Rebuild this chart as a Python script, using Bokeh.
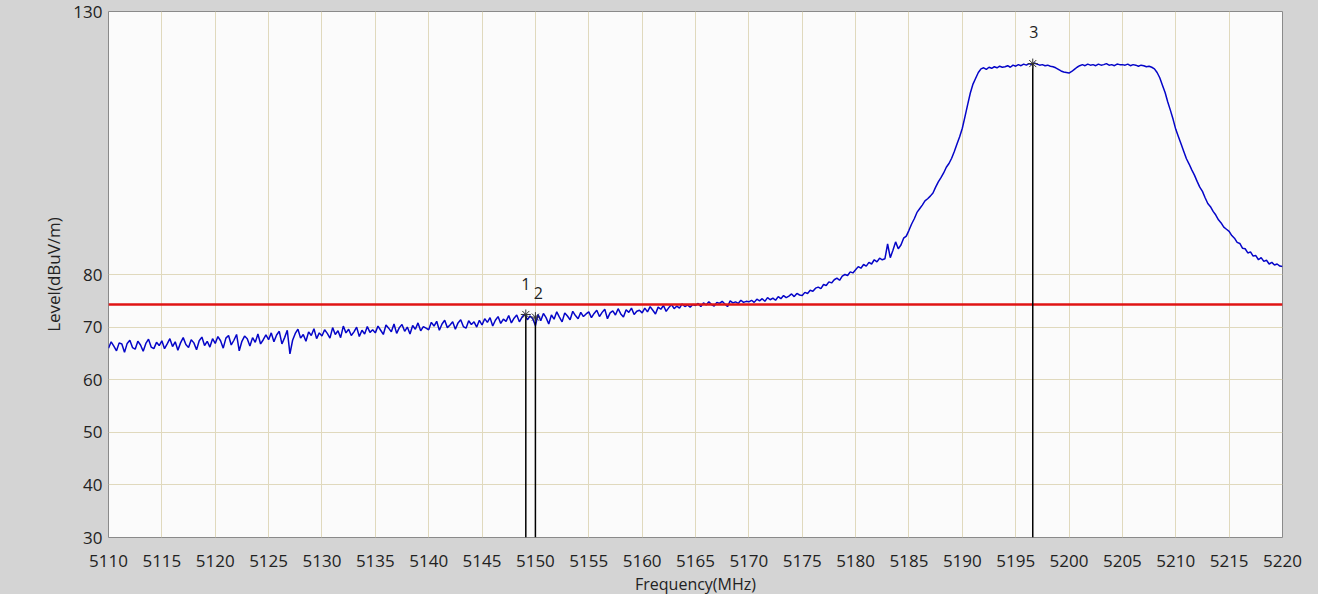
from bokeh.plotting import figure
from bokeh.layouts import column
from bokeh.models import FixedTicker, Range1d, ColumnDataSource
from bokeh.embed import file_html
from bokeh.resources import INLINE
from bokeh.core.properties import value

# ---- data ----
freq_start = 5110.0
freq_step = 0.25
level = [
    # 5110 - 5114.75
    66.0, 67.2, 66.4, 65.5, 67.0, 66.8, 65.2, 66.9, 67.5, 66.1, 65.8, 67.3, 66.6, 65.4, 66.9, 67.7, 66.2, 65.9, 67.1, 66.5,
    # 5115
    67.4, 65.9, 66.8, 67.8, 66.3, 67.2, 65.6, 67.0, 68.0, 66.7, 66.1, 67.6, 67.0, 65.7, 67.4, 68.1, 66.5, 67.3, 66.2, 67.8,
    # 5120
    66.9, 68.2, 67.4, 66.0, 67.9, 68.4, 66.6, 67.5, 68.6, 65.5, 67.3, 68.3, 67.8, 66.4, 68.0, 67.1, 68.7, 66.8, 67.6, 68.5,
    # 5125
    67.6, 68.9, 67.2, 68.5, 69.2, 66.8, 68.0, 69.4, 64.9, 67.5, 68.8, 69.6, 67.9, 68.6, 67.3, 69.1, 68.4, 69.7, 67.8, 68.9,
    # 5130
    68.3, 69.5, 68.8, 67.9, 69.9, 68.6, 69.3, 68.0, 70.2, 68.9, 69.6, 68.4, 69.1, 70.0, 68.2, 69.4, 68.7, 70.1, 69.0, 69.5,
    # 5135
    68.9, 70.2, 69.4, 68.6, 70.4, 69.8, 69.1, 70.6, 68.8, 69.9, 70.5, 69.2, 70.0, 68.7, 70.3, 69.6, 70.8, 69.3, 70.1, 69.8,
    # 5140
    69.5, 70.9, 70.2, 71.1, 69.4, 70.6, 71.3, 69.9, 70.4, 71.0, 69.6, 70.8, 71.4, 70.1, 69.8, 71.2, 70.5, 71.0, 70.0, 71.3,
    # 5145
    70.4, 71.6, 70.9, 71.8, 70.2, 71.3, 72.0, 70.7, 71.5, 71.1, 72.2, 70.8, 71.7, 72.3, 71.0, 71.9, 72.5, 71.4, 72.1, 71.6,
    # 5150
    70.3, 72.4, 71.2, 72.6, 71.8, 70.6, 72.3, 71.5, 72.9, 71.9, 71.0, 72.7, 72.1, 71.4, 73.0, 72.2, 71.6, 72.8, 72.0, 72.5,
    # 5155
    72.9, 71.8, 72.6, 73.2, 72.0, 72.8, 73.4, 71.6, 72.7, 73.1, 72.3, 73.5, 72.5, 71.9, 73.3, 72.8, 73.6, 72.4, 73.0, 73.2,
    # 5160
    72.7, 73.6, 72.9, 73.9, 73.2, 72.5, 73.8, 73.4, 74.1, 73.0, 73.7, 74.3, 73.5, 74.0, 73.6, 74.4, 73.9, 74.2, 73.8, 74.3,
    # 5165
    74.1, 74.5, 73.9, 74.6, 74.2, 74.8, 74.3, 74.0, 74.7, 74.5, 74.9, 74.4, 73.9, 75.0, 74.6, 74.8, 74.5, 75.1, 74.7, 74.9,
    # 5170
    74.8, 75.1, 74.7, 75.3, 75.0, 75.4, 74.9, 75.6, 75.2, 75.5, 75.1, 75.8, 75.4, 76.0, 75.6, 75.9, 76.3, 75.8, 76.4, 76.1,
    # 5175
    76.0, 76.6, 76.4, 77.0, 76.8, 77.4, 77.6, 77.3, 78.1, 77.9, 78.6, 78.4, 79.0, 79.3, 78.9, 79.7, 80.0, 79.8, 80.5, 80.3,
    # 5180
    80.9, 81.5, 81.2, 81.9, 81.6, 82.3, 82.0, 82.8, 82.4, 83.1, 82.8, 83.0, 85.8, 83.2, 84.6, 86.2, 84.9, 85.6, 86.9, 87.3,
    # 5185
    88.4, 89.6, 90.6, 91.8, 92.5, 93.2, 94.0, 94.4, 94.9, 95.5, 96.6, 97.6, 98.4, 99.3, 100.4, 101.1, 102.1, 103.4, 104.8, 106.2,
    # 5190
    107.8, 110.0, 112.3, 114.5, 116.2, 117.3, 118.4, 119.1, 119.3, 119.0, 119.4, 119.2, 119.5, 119.3, 119.6, 119.4, 119.5, 119.7, 119.4, 119.8,
    # 5195
    119.6, 119.9, 119.7, 120.0, 119.8, 120.1, 119.9, 120.2, 120.0, 119.8, 119.9, 119.7, 119.8, 119.6, 119.5, 119.3, 119.0, 118.7, 118.5, 118.4,
    # 5200
    118.3, 118.6, 119.0, 119.4, 119.7, 119.9, 119.7, 120.0, 119.8, 119.9, 119.7, 120.0, 119.8, 119.9, 120.1, 119.8, 119.9, 119.7, 120.0, 119.9,
    # 5205
    119.9, 119.8, 120.0, 119.7, 119.9, 119.8, 119.6, 119.8, 119.7, 119.5, 119.6, 119.4, 119.1, 118.4, 117.4, 116.0, 114.6, 112.8, 111.2, 109.5,
    # 5210
    107.6, 106.2, 104.8, 103.4, 102.0, 101.0, 99.9, 98.9, 97.7, 96.6, 95.8, 94.6, 93.5, 92.9, 92.0, 91.3, 90.4, 89.8, 89.0, 88.6,
    # 5215
    88.2, 87.4, 86.9, 86.1, 85.9, 85.0, 84.9, 84.1, 84.3, 83.5, 83.6, 82.8, 83.2, 82.5, 82.7, 82.0, 82.3, 81.8, 82.0, 81.6,
    # 5220
    81.5,
]
freq = [freq_start + i * freq_step for i in range(len(level))]

limit_level = 74.3

marker_freq = [5149.1, 5150.0, 5196.6]
marker_level = [72.4, 71.9, 120.1]
marker_label = ["1", "2", "3"]

x_ticks = [5110, 5115, 5120, 5125, 5130, 5135, 5140, 5145, 5150, 5155, 5160,
           5165, 5170, 5175, 5180, 5185, 5190, 5195, 5200, 5205, 5210, 5215, 5220]
y_ticks = [30, 40, 50, 60, 70, 80, 130]

x_title = "Frequency(MHz)"
y_title = "Level(dBuV/m)"

# ---- styling ----
label_dx = [0, 3, 1]
label_dy = [-30, -24, -32]
FONT = "Open Sans"
TXT = "#222222"
FRAME = "#d4d4d4"
W = 1318
H_TITLE = 20
H_MAIN = 594 - H_TITLE

p = figure(width=W, height=H_MAIN,
           x_range=Range1d(5110, 5220), y_range=Range1d(30, 130),
           output_backend="svg", toolbar_location=None,
           min_border_left=108, min_border_right=36,
           min_border_top=11, min_border_bottom=H_MAIN - 537,
           background_fill_color="#fbfbfb", border_fill_color=FRAME,
           y_axis_label=y_title)

p.outline_line_color = "#8a8a8a"
p.outline_line_width = 1

p.xaxis.ticker = FixedTicker(ticks=x_ticks)
p.yaxis.ticker = FixedTicker(ticks=y_ticks)
p.xgrid.ticker = FixedTicker(ticks=x_ticks)
p.ygrid.ticker = FixedTicker(ticks=y_ticks)
for g in (p.xgrid, p.ygrid):
    g.grid_line_color = "#e0d9bd"
    g.grid_line_width = 1

for ax in (p.xaxis, p.yaxis):
    ax.axis_line_color = None
    ax.major_tick_line_color = None
    ax.minor_tick_line_color = None
    ax.major_tick_out = 0
    ax.major_tick_in = 0
    ax.major_label_text_font = FONT
    ax.major_label_text_font_size = "17px"
    ax.major_label_text_color = TXT
    ax.axis_label_text_font = FONT
    ax.axis_label_text_font_size = "17px"
    ax.axis_label_text_font_style = "normal"
    ax.axis_label_text_color = TXT

p.xaxis.major_label_standoff = 17
p.yaxis.major_label_standoff = 6
p.yaxis.axis_label_standoff = 5

# trace
p.line(freq, level, line_color="#0505c8", line_width=1.5)

# limit line
p.line([5110, 5220], [limit_level, limit_level], line_color="#e01414", line_width=2.5)

# markers
msrc = ColumnDataSource(dict(f=marker_freq, l=marker_level, t=marker_label,
                             base=[30] * len(marker_freq), dx=label_dx, dy=label_dy))
p.segment(x0="f", y0="base", x1="f", y1="l", source=msrc,
          line_color="#000000", line_width=1.5)
p.scatter(x="f", y="l", source=msrc, marker="asterisk", size=10,
          line_color="#333333", line_width=1)
p.text(x="f", y="l", text="t", source=msrc, x_offset="dx", y_offset="dy",
       text_align="center", text_baseline="middle",
       text_font=value(FONT), text_font_size="16px", text_color=TXT)

# strip under the chart carrying the x axis title
t = figure(width=W, height=H_TITLE, x_range=p.x_range, y_range=Range1d(0, 1),
           output_backend="svg", toolbar_location=None,
           x_axis_type=None, y_axis_type=None,
           min_border_left=108, min_border_right=36,
           min_border_top=0, min_border_bottom=0,
           background_fill_color=FRAME, border_fill_color=FRAME)
t.outline_line_color = None
t.grid.visible = False
t.text(x=[5165], y=[0.5], text=[x_title], y_offset=-1,
       text_align="center", text_baseline="middle",
       text_font=value(FONT), text_font_size="16px", text_color=TXT)

layout = column(p, t, spacing=0)
layout.styles = {"background-color": FRAME}

html = file_html(layout, INLINE)
open("out.html", "w").write(html)
